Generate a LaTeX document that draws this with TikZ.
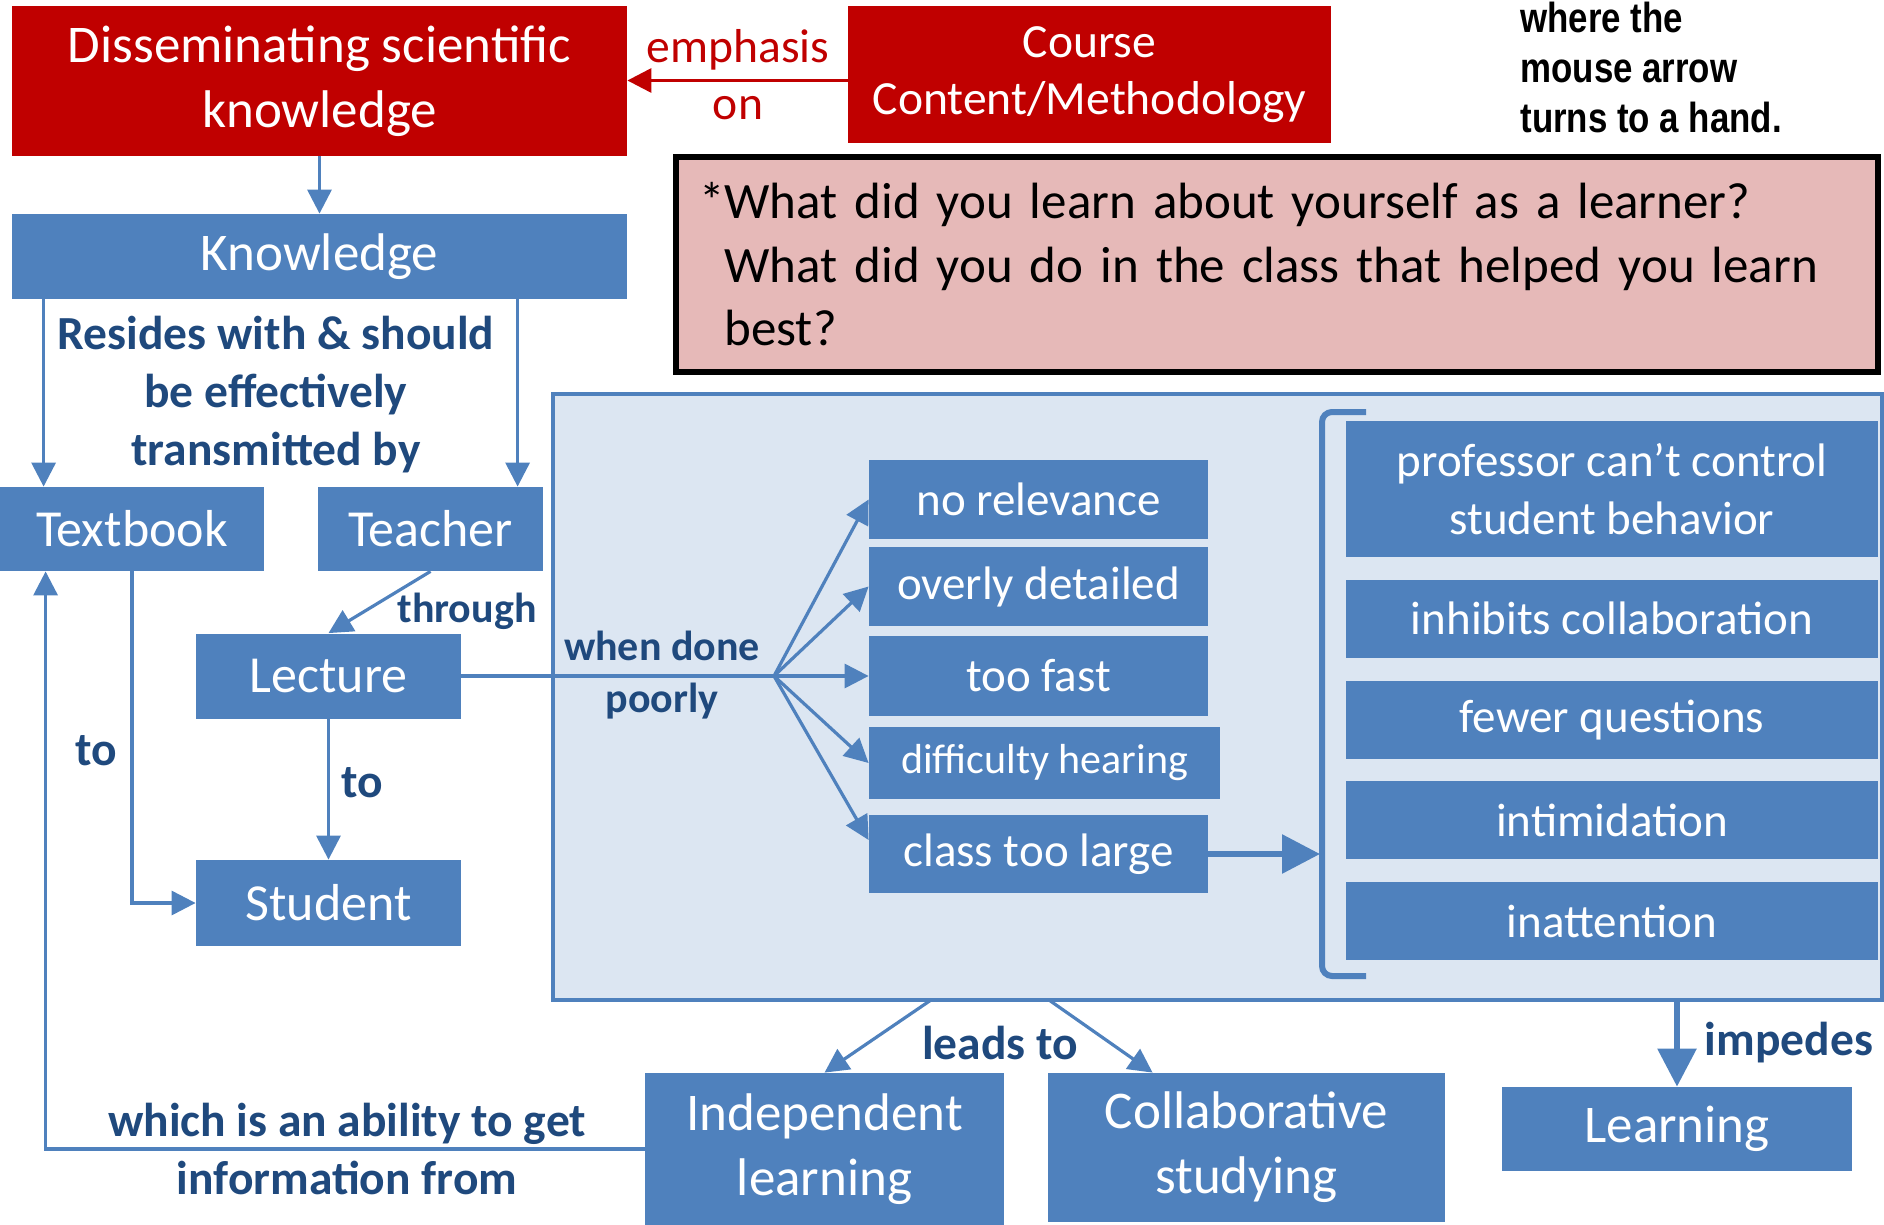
\documentclass[tikz,border=0pt]{standalone}
\usepackage{fontspec}
\setmainfont{Carlito}
\newfontfamily\narrowfont[FakeStretch=0.83]{Liberation Sans}
\usetikzlibrary{arrows.meta, positioning, calc}
\definecolor{boxblue}{RGB}{79,129,189}
\definecolor{lblue}{RGB}{31,73,125}
\definecolor{darkred}{RGB}{192,0,0}
\definecolor{panelbg}{RGB}{220,230,242}
\definecolor{qpink}{RGB}{230,185,184}

\begin{document}
\begin{tikzpicture}[
    x=0.5pt, y=0.5pt,
    box/.style={rectangle, fill=boxblue, text=white, align=center, inner sep=0pt, font=\fontsize{26.5}{32.5}\selectfont},
    redbox/.style={box, fill=darkred},
    item/.style={box, font=\fontsize{23.5}{29}\selectfont},
    lbl/.style={text=lblue, align=center, inner sep=0pt, font=\bfseries\fontsize{23.75}{29}\selectfont},
    smalllbl/.style={lbl, font=\bfseries\fontsize{21}{26}\selectfont},
    arr/.style={-{Triangle[length=12pt,width=12pt]}, line width=1.6pt, draw=boxblue},
    redarr/.style={arr, draw=darkred},
    bigarr/.style={-{Triangle[length=19pt,width=19pt]}, line width=3pt, draw=boxblue}
]
\useasboundingbox (0,0) rectangle (1884,-1225);

% background panel
\node[draw=boxblue, line width=1.8pt, fill=panelbg, inner sep=0pt, minimum width=664.5pt, minimum height=303pt] (panel) at (1217.5,-697) {};

% top row
\node[redbox, minimum width=307.5pt, minimum height=75pt] (dissem) at (319.5,-81) {Disseminating scientific\\knowledge};
\node[redbox, minimum width=241.5pt, minimum height=68.5pt, font=\fontsize{23.8}{28.5}\selectfont] (course) at (1089.5,-74.5) {Course\\Content/Methodology};
\node[text=darkred, align=center, inner sep=0pt, font=\fontsize{23.8}{28.5}\selectfont] (emph) at (738,-74.5) {emphasis\\on};
\node[anchor=north west, inner sep=0pt, align=left, font=\narrowfont\bfseries\fontsize{21}{25}\selectfont] (note) at (1520,-2) {where the\\mouse arrow\\turns to a hand.};

\node[draw=black, line width=3pt, fill=qpink, text=black, inner xsep=11.5pt, inner ysep=0pt, minimum height=107.5pt, text width=578pt, align=left, font=\fontsize{25.5}{31.75}\selectfont] (quest) at (1277,-264.5) {*What did you learn about yourself as a learner?\\\phantom{*}What did you do in the class that helped you learn\\\phantom{*}best?};

% left chain
\node[box, minimum width=307.5pt, minimum height=42.5pt] (know) at (319.5,-256.5) {Knowledge};
\node[box, minimum width=132pt, minimum height=42pt, font=\fontsize{26}{31}\selectfont] (textbook) at (132,-529) {Textbook};
\node[box, minimum width=112.5pt, minimum height=42pt, font=\fontsize{26}{31}\selectfont] (teacher) at (430.5,-529) {Teacher};
\node[box, minimum width=132.5pt, minimum height=42.5pt, font=\fontsize{26}{31}\selectfont] (lecture) at (328.5,-676) {Lecture};
\node[box, minimum width=132.5pt, minimum height=43pt, font=\fontsize{26}{31}\selectfont] (student) at (328.5,-903) {Student};

\node[lbl] (resides) at (276,-395) {Resides with \& should\\be effectively\\transmitted by};
\node[smalllbl] (through) at (467,-611) {through};
\node[lbl] (tolect) at (362,-783) {to};
\node[lbl] (totext) at (96,-751) {to};

% problems of lecture
\coordinate (fan) at (774,-676);
\node[smalllbl] (poorly) at (662,-675) {when done\\poorly};
\node[item, minimum width=169.5pt, minimum height=39.5pt] (norel) at (1038.5,-499.5) {no relevance};
\node[item, minimum width=169.5pt, minimum height=39.5pt] (detail) at (1038.5,-586.5) {overly detailed};
\node[item, minimum width=169.5pt, minimum height=40pt] (fast) at (1038.5,-676) {too fast};
\node[item, minimum width=175.5pt, minimum height=36pt, font=\fontsize{21}{26}\selectfont] (hear) at (1044.5,-763) {difficulty hearing};
\node[item, minimum width=169.5pt, minimum height=39pt] (large) at (1038.5,-854) {class too large};

% consequences of large classes
\node[item, minimum width=266pt, minimum height=68pt] (prof) at (1612,-489) {professor can’t control\\student behavior};
\node[item, minimum width=266pt, minimum height=39pt, below=11pt of prof] (inhib) {inhibits collaboration};
\node[item, minimum width=266pt, minimum height=39pt, below=11pt of inhib] (fewer) {fewer questions};
\node[item, minimum width=266pt, minimum height=39pt, below=11pt of fewer] (intim) {intimidation};
\node[item, minimum width=266pt, minimum height=39pt, below=11pt of intim] (inatt) {inattention};
\draw[boxblue, line width=3pt, rounded corners=5pt] (1366,-412) -- (1322,-412) -- (1322,-976) -- (1366,-976);
\coordinate (brk) at (1320,-854);

% bottom row
\node[box, minimum width=179.5pt, minimum height=76pt] (indep) at (824.5,-1149) {Independent\\learning};
\node[box, minimum width=198.5pt, minimum height=74.5pt] (collab) at (1246.5,-1147.5) {Collaborative\\studying};
\node[box, minimum width=175pt, minimum height=42pt] (learn) at (1677,-1129) {Learning};
\node[lbl] (leads) at (1000,-1043) {leads to};
\node[lbl] (impedes) at (1789,-1043) {impedes};
\node[lbl] (ability) at (347,-1149) {which is an ability to get\\information from};
\coordinate (lead1) at (931,-1000);
\coordinate (lead2) at (1049,-1000);

% connectors
\draw[redarr] ($(course.west)+(0,-6)$) -- ($(course.west -| dissem.east)+(0,-6)$);
\draw[arr] (dissem.south) -- (know.north);
\draw[arr] ($(know.south west)+(32,0)$) -- ($(textbook.north west)+(44,0)$);
\draw[arr] ($(know.south west)+(506,0)$) -- ($(teacher.north west)+(200,0)$);
\draw[arr] (teacher.south) -- (lecture.north);
\draw[arr] (lecture.south) -- (student.north);
\draw[arr] (textbook.south) |- (student.west);

\draw[line width=1.6pt, boxblue] (lecture.east) -- (fan);
\draw[arr] (fan) -- (norel.west);
\draw[arr] (fan) -- (detail.west);
\draw[arr] (fan) -- (fast.west);
\draw[arr] (fan) -- (hear.west);
\draw[arr] (fan) -- ($(large.west)+(0,14)$);
\draw[bigarr] (large.east) -- (large.east -| brk);

\draw[arr] (lead1) -- (indep.north);
\draw[arr] (lead2) -- ($(collab.north west)+(105,0)$);
\draw[bigarr] (learn.north |- panel.south) -- (learn.north);
\draw[arr] (indep.west) -| ($(textbook.south west)+(46,0)$);

\end{tikzpicture}
\end{document}
